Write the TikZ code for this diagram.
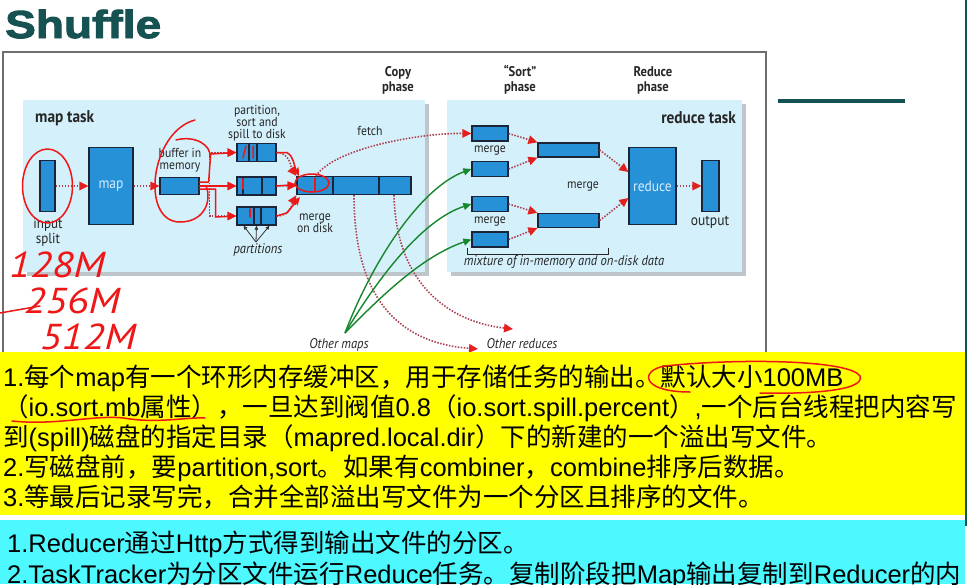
\documentclass[tikz,border=0pt]{standalone}
\usepackage{fontspec}
\setmainfont{Liberation Sans}
\newfontfamily\cjk{Noto Sans CJK SC}
\newfontfamily\figfont{PT Sans}[FakeStretch=0.9]
\newfontfamily\handfont{PT Sans}[FakeStretch=1.15]
\newfontfamily\titlefont{Liberation Sans}[FakeStretch=1.18,BoldFeatures={FakeBold=2.5}]
\usetikzlibrary{arrows.meta,positioning}
\definecolor{titleteal}{RGB}{22,82,82}
\definecolor{frameline}{RGB}{110,110,110}
\definecolor{panelblue}{RGB}{212,240,250}
\definecolor{panelshade}{RGB}{190,198,204}
\definecolor{blockblue}{RGB}{38,145,215}
\definecolor{blocknavy}{RGB}{28,36,58}
\definecolor{blocktext}{RGB}{215,236,252}
\definecolor{dotred}{RGB}{175,65,80}
\definecolor{tipred}{RGB}{228,32,30}
\definecolor{inkred}{RGB}{238,22,22}
\definecolor{mapgreen}{RGB}{22,135,45}
\definecolor{noteyellow}{RGB}{255,255,0}
\definecolor{notecyan}{RGB}{78,248,255}
\newcommand{\zh}[1]{{\cjk #1}}

\begin{document}
\begin{tikzpicture}[x=1pt, y=-1pt,
    blk/.style={draw=blocknavy, fill=blockblue, line width=1.3pt, inner sep=0pt},
    lbl/.style={font=\figfont\fontsize{13}{12}\selectfont, align=center,
                inner sep=0pt, text=black!85},
    phase/.style={lbl, font=\figfont\bfseries\fontsize{14}{15}\selectfont},
    task/.style={lbl, font=\figfont\bfseries\fontsize{17}{17}\selectfont},
    note/.style={lbl, font=\figfont\itshape\fontsize{14}{12}\selectfont},
    dotarrow/.style={draw=dotred, line width=1.6pt, dash pattern=on 1.5pt off 1.5pt,
                     -{Triangle[length=9pt,width=8.5pt,color=tipred,fill=tipred]}},
    gline/.style={draw=mapgreen, line width=1.4pt, -{Triangle[length=8pt,width=7pt]}},
    ink/.style={draw=inkred, line width=1.5pt, line cap=round, line join=round},
    inkarrow/.style={ink, -{Stealth[length=8pt,width=7pt,inset=1pt]}},
    hand/.style={text=inkred, font=\handfont\itshape\fontsize{36}{36}\selectfont, inner sep=0pt},
    noteline/.style={anchor=base west, inner sep=0pt, font=\fontsize{25.5}{30}\selectfont}]

  \useasboundingbox (0,0) rectangle (979,584);
  \clip (0,0) rectangle (979,584);
  \fill[white] (0,0) rectangle (979,584);

  % slide frame
  \node[anchor=base west, inner sep=0pt, text=titleteal,
        font=\titlefont\bfseries\fontsize{39}{39}\selectfont] (title) at (5,38) {Shuffle};
  \draw[frameline, line width=1.8pt] (3,360) -- (3,52) -- (766,52) -- (766,360);
  \draw[titleteal, line width=3.5pt] (778,101) -- (905,101);
  \draw[titleteal, line width=2.5pt] (966,0) -- (966,526);

  % task panels
  \fill[panelshade] (27,104) rectangle (429,276);
  \fill[panelblue] (23,100) rectangle (425,272);
  \fill[panelshade] (451,104) rectangle (746,276);
  \fill[panelblue] (447,100) rectangle (742,272);

  \node[phase] (copyph) at (398,80) {Copy\\phase};
  \node[phase] (sortph) at (520,80) {“Sort”\\phase};
  \node[phase] (redph) at (653,80) {Reduce\\phase};
  \node[task, anchor=west] (mtask) at (35,118) {map task};
  \node[task, anchor=east] (rtask) at (736,118) {reduce task};

  % map side
  \node[blk, minimum width=15pt, minimum height=51pt] (split) at (47.5,186) {};
  \node[blk, minimum width=44pt, minimum height=77pt, text=blocktext,
        font=\figfont\fontsize{15}{15}\selectfont] (map) at (111,186) {map};
  \node[blk, minimum width=39pt, minimum height=17pt] (buf) at (179.5,186) {};
  \node[blk, minimum width=39pt, minimum height=18pt] (p1) at (256.5,152.5) {};
  \node[blk, minimum width=39pt, minimum height=18pt] (p2) at (256.5,186) {};
  \node[blk, minimum width=39pt, minimum height=18pt] (p3) at (256.5,216) {};
  \node[blk, minimum width=114pt, minimum height=18pt] (dsk) at (354,185.5) {};
  \foreach \n/\a/\b in {p1/-7.5/0.5, p2/-13.5/5.5, p3/-2.5/4.5, dsk/-21/25}
    \draw[blocknavy, line width=1.3pt] ([xshift=\a pt]\n.north) -- ([xshift=\a pt]\n.south)
                                       ([xshift=\b pt]\n.north) -- ([xshift=\b pt]\n.south);

  \node[lbl, font=\figfont\fontsize{14.5}{15}\selectfont] (splitlbl) at (48,232) {input\\split};
  \node[lbl] (buflbl) at (180,160) {buffer in\\memory};
  \node[lbl] (spilllbl) at (257,123) {partition,\\sort and\\spill to disk};
  \node[lbl] (fetchlbl) at (370,131) {fetch};
  \node[lbl] (dsklbl) at (315,223) {merge\\on disk};
  \node[note] (partlbl) at (258,250) {partitions};

  \draw[dotarrow] (split) -- (map);
  \draw[dotarrow] (map) -- (buf);
  \draw[dotarrow] (buf.east) -- ++(10,0) |- (p1);
  \draw[dotarrow] (buf.east) -- (p2);
  \draw[dotarrow] (buf.east) -- ++(10,0) |- (p3);
  \draw[dotarrow] (p1.east) .. controls (290,152) and (292,170) .. (dsk.north west);
  \draw[dotarrow] (p2) -- (dsk);
  \draw[dotarrow] (p3.east) .. controls (292,216) and (293,201) .. (dsk.south west);
  \coordinate (pp) at (256,242);
  \foreach \dx in {-13,0,13}
    \draw[black!80, line width=0.8pt, -{Triangle[length=4pt,width=3.5pt]}] (pp) -- ([xshift=\dx pt]p3.south);

  % reduce side
  \node[blk, minimum width=36pt, minimum height=15pt] (r1) at (490,133.5) {};
  \node[blk, minimum width=36pt, minimum height=15pt] (r2) at (490,169) {};
  \node[blk, minimum width=36pt, minimum height=15pt] (r3) at (490,204) {};
  \node[blk, minimum width=36pt, minimum height=15pt] (r4) at (490,239.5) {};
  \node[blk, minimum width=61pt, minimum height=14pt] (m1) at (568.5,150) {};
  \node[blk, minimum width=61pt, minimum height=14pt] (m2) at (568.5,220.5) {};
  \node[blk, minimum width=47pt, minimum height=77pt, text=blocktext,
        font=\figfont\fontsize{15}{15}\selectfont] (red) at (652.5,186) {reduce};
  \node[blk, minimum width=17pt, minimum height=51pt] (out) at (710.5,186) {};

  \node[lbl] (mg1) at (490,151) {merge};
  \node[lbl] (mg2) at (490,222) {merge};
  \node[lbl] (mg3) at (583,187) {merge};
  \node[lbl, font=\figfont\fontsize{15}{15}\selectfont] (outlbl) at (710,222) {output};
  \draw[black!85, line width=0.9pt] (467,248) -- (467,254) -- (608,254) -- (608,248);
  \node[note] (mixlbl) at (564,262) {mixture of in-memory and on-disk data};

  \draw[dotarrow] (r1.east) -- (m1.north west);
  \draw[dotarrow] (r2.east) -- (m1.south west);
  \draw[dotarrow] (r3.east) -- (m2.north west);
  \draw[dotarrow] (r4.east) -- (m2.south west);
  \draw[dotarrow] (m1.east) -- ([yshift=14pt]red.west);
  \draw[dotarrow] (m2.east) -- ([yshift=-12pt]red.west);
  \draw[dotarrow] (red) -- (out);

  % shuffle between the tasks
  \node[note] (omaps) at (339,345) {Other maps};
  \node[note] (ored) at (522,344) {Other reduces};
  \coordinate (om) at (345,333);
  \coordinate (orA) at (478,349);
  \coordinate (orB) at (513,329);
  \draw[dotarrow] ([xshift=-38pt]dsk.north) .. controls (335,148) and (420,133) .. (r1.west);
  \draw[dotarrow] (dsk.south) .. controls (354,300) and (400,343) .. (orA);
  \draw[dotarrow] ([xshift=40pt]dsk.south) .. controls (396,285) and (450,322) .. (orB);
  \draw[gline] (om) .. controls (372,262) and (420,188) .. (r2.west);
  \draw[gline] (om) .. controls (378,278) and (422,220) .. (r3.west);
  \draw[gline] (om) .. controls (385,292) and (425,255) .. (r4.west);

  % notes
  \fill[noteyellow] (0,352) rectangle (965,515);
  \fill[notecyan] (0,520) rectangle (965,584);
  \node[noteline] (y1) at (3,386) {1.\zh{每个}map\zh{有一个环形内存缓冲区，用于存储任务的输出。默认大小}100MB};
  \node[noteline] (y2) at (3,416) {\zh{（}io.sort.mb\zh{属性），一旦达到阀值}0.8\zh{（}io.sort.spill.percent\zh{）},\zh{一个后台线程把内容写}};
  \node[noteline] (y3) at (3,446) {\zh{到}(spill)\zh{磁盘的指定目录（}mapred.local.dir\zh{）下的新建的一个溢出写文件。}};
  \node[noteline] (y4) at (3,476) {2.\zh{写磁盘前，要}partition,sort\zh{。如果有}combiner\zh{，}combine\zh{排序后数据。}};
  \node[noteline] (y5) at (3,506) {3.\zh{等最后记录写完，合并全部溢出写文件为一个分区且排序的文件。}};
  \node[noteline] (c1) at (7,552) {1.Reducer\zh{通过}Http\zh{方式得到输出文件的分区。}};
  \node[noteline] (c2) at (7,583) {2.TaskTracker\zh{为分区文件运行}Reduce\zh{任务。复制阶段把}Map\zh{输出复制到}Reducer\zh{的内}};

  % pen marks
  \draw[ink] (split.center) ellipse [x radius=25, y radius=37];
  \draw[ink] (195,120) .. controls (150,132) and (140,222) .. (180,222)
             .. controls (205,222) and (212,200) .. (206,186);
  \draw[ink] (176,140) .. controls (195,135) and (212,145) .. (210,158);
  \draw[inkarrow] ([yshift=4pt]buf.east) -- ++(9,0) -- ++(2,-28) -- (p1.west);
  \draw[inkarrow] (buf.east) -- (p2.west);
  \draw[inkarrow] ([yshift=-3pt]buf.east) -- ++(16,0) -- ++(0,28) -- (p3.west);
  \draw[inkarrow] (p1.east) -- ++(10,0) .. controls (294,156) and (294,166) .. (299,176);
  \draw[inkarrow] (p2.east) -- ([yshift=1pt]dsk.west);
  \draw[inkarrow] (p3.east) -- ++(10,-3) -- (300,197);
  \draw[ink] (246,146) -- (243,158) (253,146) -- (253,158);
  \draw[ink] (243,179) -- (243,189) (250,209) -- (250,217);
  \draw[ink] (312,183) ellipse [x radius=17, y radius=9];
  \draw[ink] (315,178) -- (315,191);

  \node[hand] (h1) at (57,265) {128M};
  \node[hand] (h2) at (72,301) {256M};
  \node[hand] (h3) at (88,337) {512M};
  \draw[ink] (0,313) -- (40,306);

  \draw[ink] (690,392) .. controls (640,392) and (640,370) .. (665,366)
             .. controls (740,358) and (850,360) .. (860,376)
             .. controls (866,392) and (800,394) .. (760,393);
  \draw[ink] (12,421) .. controls (60,426) and (100,413) .. (130,419)
             .. controls (160,423) and (190,417) .. (205,418);
\end{tikzpicture}
\end{document}
